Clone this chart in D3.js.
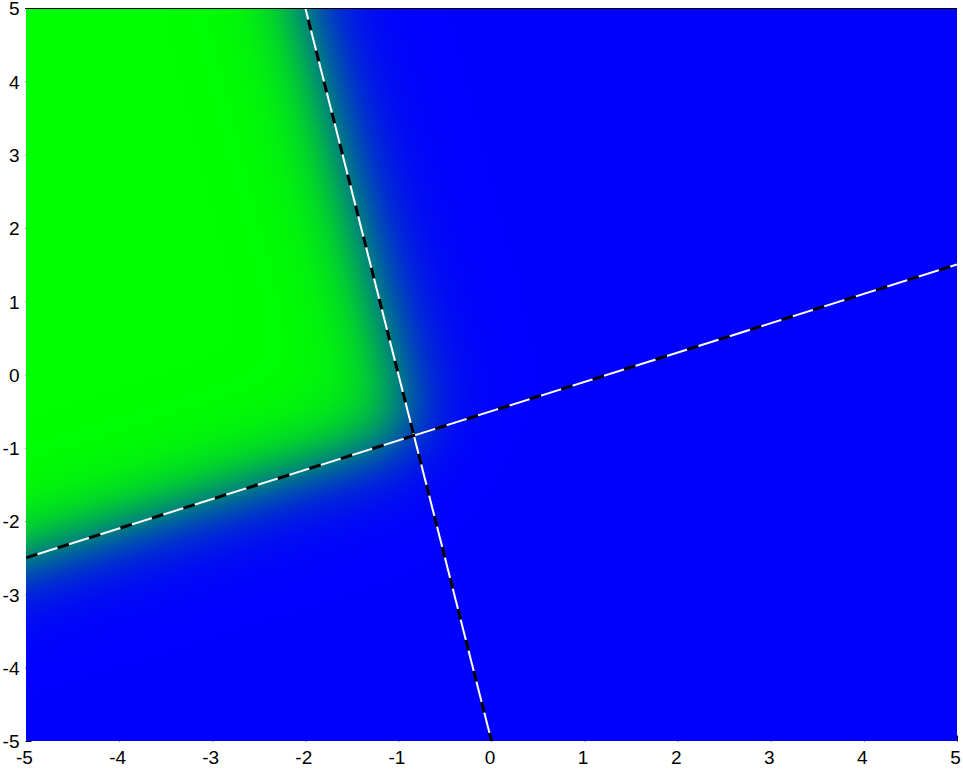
<!DOCTYPE html>
<html>
<head>
<meta charset="utf-8">
<script src="https://cdn.jsdelivr.net/npm/d3@7"></script>
<style>
  body { margin: 0; background: #fff; }
  svg { display: block; }
  .tick text { font-family: "Liberation Sans", Arial, sans-serif; font-size: 19px; fill: #000; }
</style>
</head>
<body>
<div id="chart"></div>
<script>
    var W = 963, H = 769;
    var L = 26, R = 957, T = 8, B = 741;

    // axis ranges and ticks
    var xDomain = [-5, 5];
    var yDomain = [-5, 5];
    var xTicks = [-5, -4, -3, -2, -1, 0, 1, 2, 3, 4, 5];
    var yTicks = [-5, -4, -3, -2, -1, 0, 1, 2, 3, 4, 5];

    // decision boundaries: a*x + b*y + c = 0, sign > 0 is the green side
    var boundaryA = [-0.4, -1.0];
    var boundaryB = [1.0, -0.2];
    var boundaryC = [0.5, -1.0];
    var boundarySharp = [3.6, 4.2];

    // end points of the drawn boundary lines
    var lineX = [[-5, 5], [-2, 0]];
    var lineY = [[-2.5, 1.5], [5, -5]];

    var clrGreen = [0, 255, 0];
    var clrBlue = [0, 0, 255];

    var x = d3.scaleLinear().domain(xDomain).range([L, R]);
    var y = d3.scaleLinear().domain(yDomain).range([B, T]);

    var svg = d3.select("#chart").append("svg")
      .attr("width", W).attr("height", H);

    // probability of the green class: product of two logistic terms
    function pGreen(px, py) {
      var p = 1;
      for (var i = 0; i < boundaryA.length; i++) {
        var n = Math.sqrt(boundaryA[i] * boundaryA[i] + boundaryB[i] * boundaryB[i]);
        var d = (boundaryA[i] * px + boundaryB[i] * py + boundaryC[i]) / n;
        p *= 1 / (1 + Math.exp(-boundarySharp[i] * d));
      }
      return p;
    }

    // paint the field into a canvas, then hand it to the svg as an image
    var cw = R - L, ch = B - T - 1;
    var canvas = document.createElement("canvas");
    canvas.width = cw; canvas.height = ch;
    var ctx = canvas.getContext("2d");
    var img = ctx.createImageData(cw, ch);
    for (var j = 0; j < ch; j++) {
      for (var i = 0; i < cw; i++) {
        var p = pGreen(x.invert(L + i + 0.5), y.invert(T + 1 + j + 0.5));
        var k = (j * cw + i) * 4;
        img.data[k] = Math.round(clrGreen[0] * p + clrBlue[0] * (1 - p));
        img.data[k + 1] = Math.round(clrGreen[1] * p + clrBlue[1] * (1 - p));
        img.data[k + 2] = Math.round(clrGreen[2] * p + clrBlue[2] * (1 - p));
        img.data[k + 3] = 255;
      }
    }
    ctx.putImageData(img, 0, 0);

    // axes (ticks point inward, mostly hidden under the image)
    var xAxis = d3.axisBottom(x).tickValues(xTicks).tickSizeInner(-6).tickSizeOuter(0)
      .tickFormat(d3.format("d"));
    var yAxis = d3.axisLeft(y).tickValues(yTicks).tickSizeInner(-6).tickSizeOuter(0)
      .tickFormat(d3.format("d"));

    var gx = svg.append("g").attr("transform", "translate(0," + (B + 0.5) + ")").call(xAxis);
    gx.select(".domain").remove();
    gx.selectAll(".tick line").attr("stroke", "#000");
    gx.selectAll(".tick text").attr("y", 22.5).attr("dy", 0).attr("dx", -2)
      .text(function (d) { return String(d).replace("\u2212", "-"); });

    var gy = svg.append("g").attr("transform", "translate(" + (L - 0.5) + ",0)").call(yAxis);
    gy.select(".domain").remove();
    gy.selectAll(".tick line").attr("stroke", "#000");
    gy.selectAll(".tick text").attr("x", -6).attr("dy", "0.36em")
      .text(function (d) { return String(d).replace("\u2212", "-"); });

    svg.append("image")
      .attr("x", L).attr("y", T + 1)
      .attr("width", cw).attr("height", ch)
      .attr("preserveAspectRatio", "none")
      .attr("href", canvas.toDataURL());

    // top border of the axes box
    svg.append("line")
      .attr("x1", L - 1).attr("x2", R)
      .attr("y1", T + 0.5).attr("y2", T + 0.5)
      .attr("stroke", "#000").attr("stroke-width", 1);

    // boundary lines: white solid under black dashes
    svg.append("clipPath").attr("id", "plotClip")
      .append("rect").attr("x", L).attr("y", T + 1).attr("width", cw).attr("height", ch);

    var lineData = lineX.map(function (xs, i) {
      return [[xs[0], lineY[i][0]], [xs[1], lineY[i][1]]];
    });
    var lineGen = d3.line().x(function (d) { return x(d[0]); }).y(function (d) { return y(d[1]); });

    var gl = svg.append("g").attr("clip-path", "url(#plotClip)");
    gl.selectAll(".bw").data(lineData).enter().append("path")
      .attr("class", "bw")
      .attr("d", lineGen)
      .attr("fill", "none").attr("stroke", "#fff").attr("stroke-width", 2);
    gl.selectAll(".bk").data(lineData).enter().append("path")
      .attr("class", "bk")
      .attr("d", lineGen)
      .attr("fill", "none").attr("stroke", "#000").attr("stroke-width", 3)
      .attr("stroke-dasharray", function (d, i) { return i === 0 ? "12,21" : "11,21"; })
      .attr("stroke-dashoffset", function (d, i) { return i === 0 ? 0 : 20; });
</script>
</body>
</html>
